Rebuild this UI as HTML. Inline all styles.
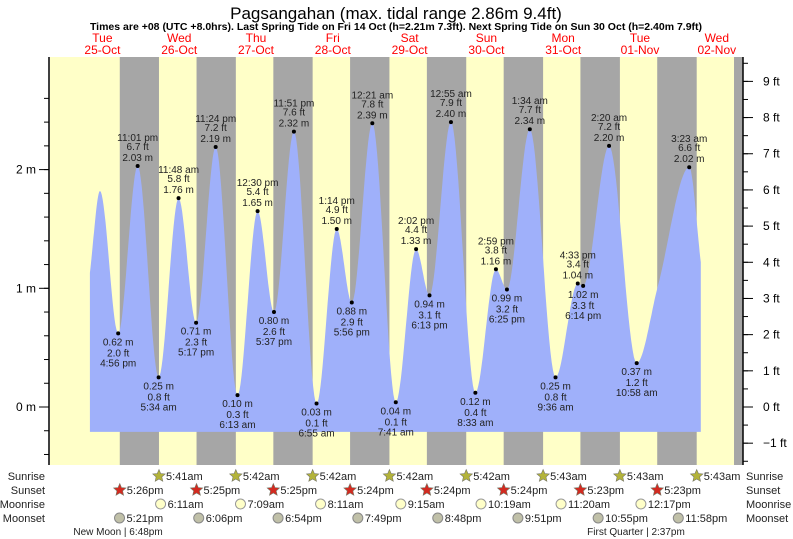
<!DOCTYPE html>
<html><head><meta charset="utf-8"><style>
body{margin:0;background:#fff;}
svg{display:block;font-family:"Liberation Sans",sans-serif;}
</style></head><body>
<svg id="c" width="793" height="539"></svg>
<script>
const days=["Tue","Wed","Thu","Fri","Sat","Sun","Mon","Tue","Wed"];
const dates=["25-Oct","26-Oct","27-Oct","28-Oct","29-Oct","30-Oct","31-Oct","01-Nov","02-Nov"];
const tideDay=[0,0,1,1,1,1,2,2,2,2,3,3,3,4,4,4,4,5,5,5,5,6,6,6,6,7,7,8];
const tideHour=[16.93,23.02,5.57,11.8,17.28,23.4,6.22,12.5,17.62,23.85,6.92,13.23,17.93,0.35,7.68,14.03,18.22,0.92,8.55,14.98,18.42,1.57,9.6,16.55,18.23,2.33,10.97,3.38];
const tideM=[0.62,2.03,0.25,1.76,0.71,2.19,0.10,1.65,0.80,2.32,0.03,1.50,0.88,2.39,0.04,1.33,0.94,2.40,0.12,1.16,0.99,2.34,0.25,1.04,1.02,2.20,0.37,2.02];
const tideFt=["2.0","6.7","0.8","5.8","2.3","7.2","0.3","5.4","2.6","7.6","0.1","4.9","2.9","7.8","0.1","4.4","3.1","7.9","0.4","3.8","3.2","7.7","0.8","3.4","3.3","7.2","1.2","6.6"];
const tideTime=["4:56 pm","11:01 pm","5:34 am","11:48 am","5:17 pm","11:24 pm","6:13 am","12:30 pm","5:37 pm","11:51 pm","6:55 am","1:14 pm","5:56 pm","12:21 am","7:41 am","2:02 pm","6:13 pm","12:55 am","8:33 am","2:59 pm","6:25 pm","1:34 am","9:36 am","4:33 pm","6:14 pm","2:20 am","10:58 am","3:23 am"];
const extraHours=[8.1,11.25,185.6,199.0];
const extraM=[1.13,1.82,1.02,1.22];
const sunriseTxt=["5:41am","5:42am","5:42am","5:42am","5:42am","5:43am","5:43am","5:43am"];
const sunriseH=[5.68,5.7,5.7,5.7,5.7,5.72,5.72,5.72];
const sunsetTxt=["5:26pm","5:25pm","5:25pm","5:24pm","5:24pm","5:24pm","5:23pm","5:23pm"];
const sunsetH=[17.43,17.42,17.42,17.4,17.4,17.4,17.38,17.38,17.38];
const moonriseTxt=["6:11am","7:09am","8:11am","9:15am","10:19am","11:20am","12:17pm"];
const moonriseH=[6.18,7.15,8.18,9.25,10.32,11.33,12.28];
const moonsetTxt=["5:21pm","6:06pm","6:54pm","7:49pm","8:48pm","9:51pm","10:55pm","11:58pm"];
const moonsetH=[17.35,18.1,18.9,19.82,20.8,21.85,22.92,23.97];
const mTicks=[0,1,2];
const ftTicks=[-1,0,1,2,3,4,5,6,7,8,9];

const X0=64,PXH=3.2,L=50,R=743,T=57,B=465;
const xT=h=>X0+h*PXH;
const yM=m=>407-118.7*m;
const yFt=f=>yM(f*0.3048);
const svg=document.getElementById('c');
const NS="http://www.w3.org/2000/svg";
function el(tag,attrs,parent){const e=document.createElementNS(NS,tag);for(const k in attrs)e.setAttribute(k,attrs[k]);(parent||svg).appendChild(e);return e;}
function txt(s,x,y,attrs,parent){const e=el('text',Object.assign({x:x,y:y},attrs),parent);e.textContent=s;return e;}

const bg=el('rect',{x:L,y:T,width:R-L,height:B-T,fill:'#ffffc8'});


for(let d=0;d<9;d++){
  const x1=xT(d*24+sunsetH[d]);
  const x2=d<8?xT((d+1)*24+sunriseH[d]):R;
  const r=el('rect',{x:x1,y:T,width:Math.min(x2,R)-x1,height:B-T,fill:'#a6a6a6'});
  
  
}
let pts=[];
for(let i=0;i<tideM.length;i++)pts.push([tideDay[i]*24+tideHour[i],tideM[i]]);
for(let i=0;i<extraHours.length;i++)pts.push([extraHours[i],extraM[i]]);
pts.sort((a,b)=>a[0]-b[0]);
const n=pts.length,dx=[],sl=[];
for(let i=0;i<n-1;i++){dx.push(pts[i+1][0]-pts[i][0]);sl.push((pts[i+1][1]-pts[i][1])/dx[i]);}
const m=[sl[0]];
for(let i=1;i<n-1;i++){if(sl[i-1]*sl[i]<=0)m.push(0);else{const w1=2*dx[i]+dx[i-1],w2=dx[i]+2*dx[i-1];m.push((w1+w2)/(w1/sl[i-1]+w2/sl[i]));}}
m.push(sl[n-2]);
let d="M"+xT(pts[0][0])+","+(yM(-0.21));
for(let i=0;i<n-1;i++){
  const h=dx[i];
  for(let k=0;k<=20;k++){
    const t=k/20,t2=t*t,t3=t2*t;
    const v=(2*t3-3*t2+1)*pts[i][1]+(t3-2*t2+t)*h*m[i]+(-2*t3+3*t2)*pts[i+1][1]+(t3-t2)*h*m[i+1];
    d+=" L"+xT(pts[i][0]+t*h).toFixed(1)+","+yM(v).toFixed(1);
  }
}
d+=" L"+xT(pts[n-1][0])+","+yM(-0.21)+" Z";
const area=el('path',{d:d,fill:'#9fb0fa'});



for(let i=0;i<tideM.length;i++){
  const x=xT(tideDay[i]*24+tideHour[i]),y=yM(tideM[i]);
  const isHigh=(i>0&&tideM[i]>tideM[i-1]);
  const g=el('g',{});
  
  
  el('circle',{cx:x,cy:y,r:2,fill:'#000'},g);
  const a={'font-size':'10','text-anchor':'middle',fill:'#222'};
  if(isHigh){
    txt(tideM[i].toFixed(2)+" m",x,y-5,a,g);
    txt(tideFt[i]+" ft",x,y-16,a,g);
    txt(tideTime[i],x,y-25,a,g);
  }else{
    txt(tideM[i].toFixed(2)+" m",x,y+12,a,g);
    txt(tideFt[i]+" ft",x,y+23,a,g);
    txt(tideTime[i],x,y+33,a,g);
  }
}
el('line',{x1:L-1,y1:T,x2:L-1,y2:B,stroke:'#000','stroke-width':1.5});
el('line',{x1:R,y1:T,x2:R,y2:B,stroke:'#000','stroke-width':1.5});
for(let v=-0.4;v<=2.8;v+=0.2){const y=yM(v);if(y<T||y>B)continue;el('line',{x1:L-6,y1:y,x2:L-1,y2:y,stroke:'#000'});}
mTicks.forEach(v=>{el('line',{x1:L-11,y1:yM(v),x2:L-1,y2:yM(v),stroke:'#000'});
  const t=txt(v+" m",L-14,yM(v)+4,{'font-size':'12','text-anchor':'end',fill:'#000'});
  });
for(let f=-1.5;f<=10;f+=0.5){const y=yFt(f);if(y<T||y>B)continue;el('line',{x1:R,y1:y,x2:R+5,y2:y,stroke:'#000'});}
ftTicks.forEach(f=>{const y=yFt(f);el('line',{x1:R,y1:y,x2:R+10,y2:y,stroke:'#000'});
  const t=txt((f<0?"\u22121":f)+" ft",R+20,y+4,{'font-size':'12',fill:'#000'});
  });
const ti=txt("Pagsangahan (max. tidal range 2.86m 9.4ft)",396,19,{'font-size':'17','text-anchor':'middle',fill:'#000'});

const st=txt("Times are +08 (UTC +8.0hrs). Last Spring Tide on Fri 14 Oct (h=2.21m 7.3ft). Next Spring Tide on Sun 30 Oct (h=2.40m 7.9ft)",396,30,{'font-size':'10.5','font-weight':'bold','text-anchor':'middle',fill:'#000'});

for(let i=0;i<9;i++){const x=xT(i*24+12);
  const g=el('g',{});
  txt(days[i],x,42,{'font-size':'12','text-anchor':'middle',fill:'#f00'},g);
  txt(dates[i],x,54,{'font-size':'12','text-anchor':'middle',fill:'#f00'},g);}
const rows=[["Sunrise",480],["Sunset",494],["Moonrise",508],["Moonset",522]];
rows.forEach(r=>{
  txt(r[0],45,r[1],{'font-size':'11','text-anchor':'end',fill:'#222'});
  txt(r[0],746,r[1],{'font-size':'11',fill:'#222'});
});
function star(cx,cy,fill){let p="";for(let k=0;k<10;k++){const a=-Math.PI/2+k*Math.PI/5,rr=k%2?3:6.5;p+=(cx+rr*Math.cos(a)).toFixed(1)+","+(cy+rr*Math.sin(a)).toFixed(1)+" ";}return el('polygon',{points:p,fill:fill,stroke:'#776','stroke-width':0.6});}
sunriseH.forEach((h,i)=>{const x=xT((i+1)*24+h);star(x,476,'#b3b33a');txt(sunriseTxt[i],x+7,480,{'font-size':'11',fill:'#222'});});
sunsetTxt.forEach((s,i)=>{const x=xT(i*24+sunsetH[i]);star(x,490,'#d32a20');txt(s,x+7,494,{'font-size':'11',fill:'#222'});});
moonriseH.forEach((h,i)=>{const x=xT((i+1)*24+h);const c=el('circle',{cx:x,cy:504,r:5,fill:'#ffffc8',stroke:'#999'});txt(moonriseTxt[i],x+7,508,{'font-size':'11',fill:'#222'});});
moonsetH.forEach((h,i)=>{const x=xT(i*24+h);const c=el('circle',{cx:x,cy:518,r:5,fill:'#c0c0a8',stroke:'#888'});txt(moonsetTxt[i],x+7,522,{'font-size':'11',fill:'#222'});});
const nm=txt("New Moon | 6:48pm",118,535,{'font-size':'10','text-anchor':'middle',fill:'#222'});

const fq=txt("First Quarter | 2:37pm",636,535,{'font-size':'10','text-anchor':'middle',fill:'#222'});

</script>
</body></html>
